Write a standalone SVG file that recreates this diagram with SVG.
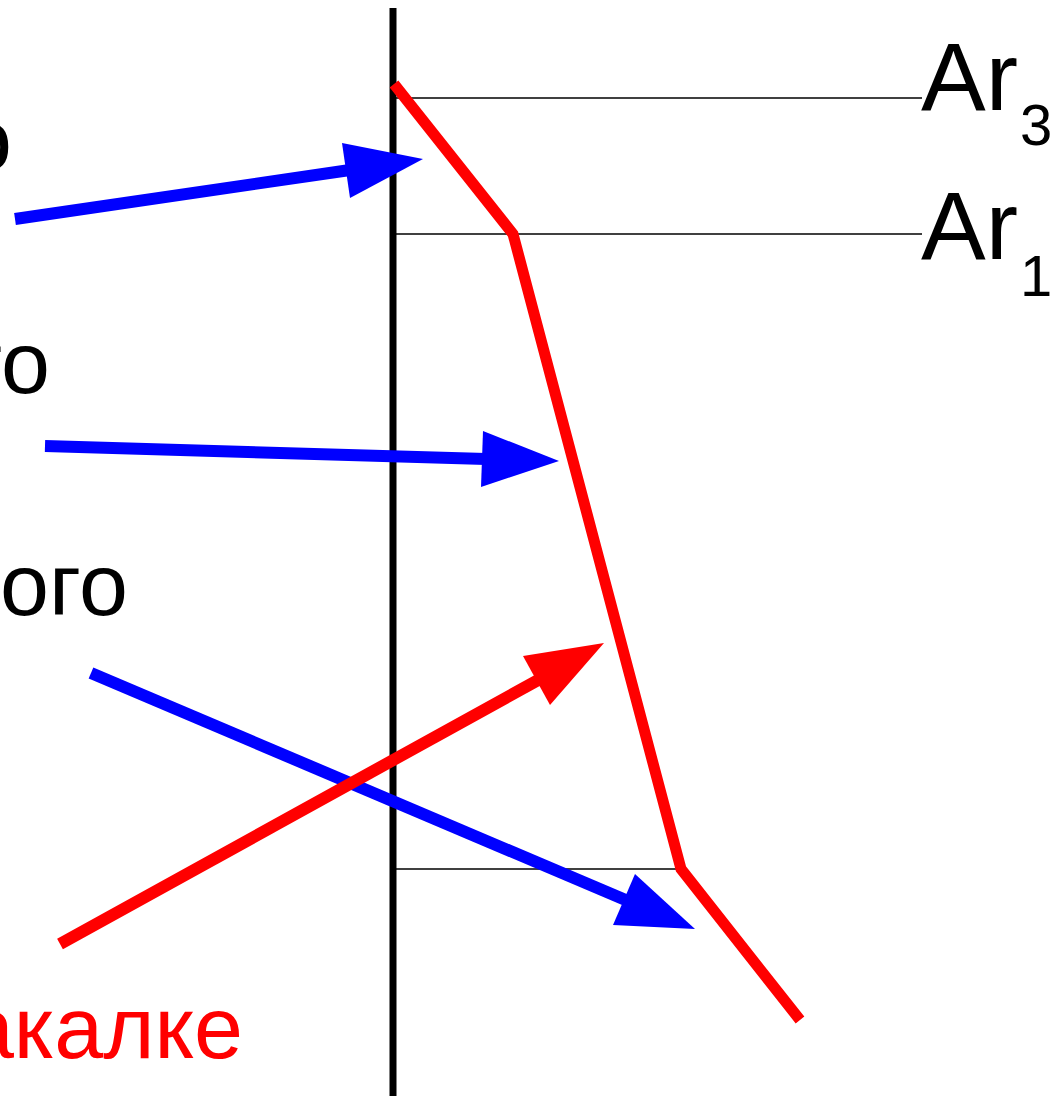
<svg xmlns="http://www.w3.org/2000/svg" width="1058" height="1096" viewBox="0 0 1058 1096">
<style>
.lbl{font-family:"Liberation Sans",Arial,sans-serif;font-size:88px;fill:#000}
.ar{font-family:"Liberation Sans",Arial,sans-serif;font-size:97px;fill:#000}
.sub{font-size:58px}
.thin{stroke:#000;stroke-width:1.6;fill:none}
.blue{stroke:#0000ff;stroke-width:12;fill:none}
.bhead{fill:#0000ff}
.red{stroke:#ff0000;stroke-width:12;fill:none}
.rhead{fill:#ff0000}
</style>
<rect width="1058" height="1096" fill="#fff"/>
<g id="axis">
<line x1="393" y1="8" x2="393" y2="1096" stroke="#000" stroke-width="7"/>
</g>
<g id="levels">
<line class="thin" x1="396" y1="98" x2="922" y2="98"/>
<line class="thin" x1="396" y1="234" x2="922" y2="234"/>
<line class="thin" x1="396" y1="869" x2="681" y2="869"/>
</g>
<g id="curve">
<polyline points="394,84 513,234 681,869 800,1020" stroke="#ff0000" stroke-width="11" fill="none" stroke-linejoin="miter"/>
</g>
<g id="labels">
<text class="ar" x="921" y="110">Ar<tspan class="sub" dx="2" dy="35">3</tspan></text>
<text class="ar" x="921" y="259">Ar<tspan class="sub" dx="2" dy="37">1</tspan></text>
<text class="lbl" x="12" y="170" text-anchor="end">о</text>
<text class="lbl" x="50" y="393" text-anchor="end">то</text>
<text class="lbl" x="128" y="615" text-anchor="end">ого</text>
<text class="lbl" x="243" y="1058" text-anchor="end" style="fill:#ff0000">акалке</text>
</g>
<g id="connectors">
<line class="blue" x1="15" y1="219" x2="350" y2="170"/>
<polygon class="bhead" points="423,159 342,143 350,198"/>
<line class="blue" x1="45" y1="446" x2="486" y2="459"/>
<polygon class="bhead" points="559,461 483,431 481,487"/>
<line class="blue" x1="91" y1="673" x2="628" y2="901"/>
<polygon class="bhead" points="695,929 635,874 613,925"/>
<line class="red" x1="60" y1="944" x2="540" y2="679"/>
<polygon class="rhead" points="604,643 523,656 550,705"/>
</g>
</svg>
